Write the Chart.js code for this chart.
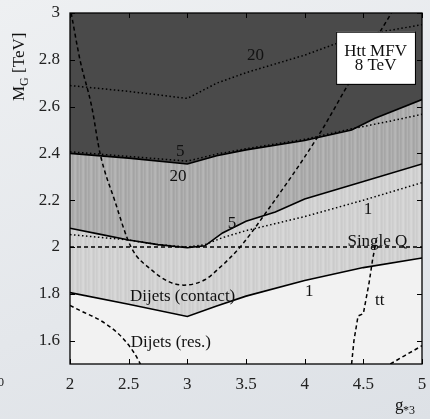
<!DOCTYPE html>
<html>
<head>
<meta charset="utf-8">
<script src="https://cdn.jsdelivr.net/npm/chart.js@4"></script>
<style>
  html, body { margin: 0; padding: 0; }
  body { width: 430px; height: 419px; background: linear-gradient(160deg, #eef0f2 0%, #e4e7eb 60%, #dde1e6 100%); }
  #wrap { width: 430px; height: 419px; }
</style>
</head>
<body>
<div id="wrap"><canvas id="limits" width="430" height="419"></canvas></div>
<script>
// g*3 values and M_G [TeV] values
const xTicks = [2, 2.5, 3, 3.5, 4, 4.5, 5];
const yTicks = [1.6, 1.8, 2, 2.2, 2.4, 2.6, 2.8, 3];

// solid boundaries of the shaded regions
const upperG = [2, 2.5, 3, 3.25, 3.5, 4, 4.4, 4.6, 5];
const upperM = [2.40, 2.38, 2.355, 2.39, 2.415, 2.455, 2.50, 2.55, 2.63];
const middleG = [2, 2.25, 2.5, 2.75, 3, 3.15, 3.3, 3.5, 3.75, 4, 4.5, 5];
const middleM = [2.08, 2.055, 2.03, 2.01, 1.997, 2.005, 2.06, 2.11, 2.15, 2.205, 2.28, 2.355];
const lowerG = [2, 2.5, 3, 3.25, 3.5, 4, 4.5, 5];
const lowerM = [1.805, 1.755, 1.703, 1.748, 1.79, 1.857, 1.912, 1.953];

// dotted contours
const dot20G = [2, 2.5, 3, 3.25, 3.5, 4, 4.3, 4.6, 5];
const dot20M = [2.69, 2.665, 2.635, 2.70, 2.745, 2.82, 2.875, 2.915, 2.95];
const dot5aG = [2, 2.5, 3, 3.25, 3.5, 4, 4.4, 4.7, 5];
const dot5aM = [2.407, 2.387, 2.367, 2.397, 2.42, 2.46, 2.505, 2.535, 2.567];
const dot5bG = [2, 2.5, 2.75, 3, 3.15, 3.3, 3.5, 4, 4.5, 5];
const dot5bM = [2.053, 2.03, 2.01, 2.0, 2.01, 2.04, 2.07, 2.13, 2.2, 2.275];

// dashed curves
const bowlG = [2.01, 2.085, 2.185, 2.256, 2.38, 2.52, 2.7, 2.85, 2.97, 3.15, 3.25, 3.45, 3.66, 4.11, 4.4, 4.74];
const bowlM = [3.0, 2.8, 2.6, 2.4, 2.2, 2.0, 1.9, 1.85, 1.837, 1.86, 1.90, 2.0, 2.14, 2.47, 2.72, 3.0];
const resG = [2.0, 2.1, 2.26, 2.4, 2.48, 2.55, 2.6];
const resM = [1.75, 1.725, 1.686, 1.635, 1.593, 1.545, 1.5];
const ttG = [4.40, 4.42, 4.455, 4.50, 4.55, 4.58, 4.60, 4.61];
const ttM = [1.5, 1.6, 1.705, 1.715, 1.85, 1.95, 2.0, 2.03];
const tt2G = [4.73, 4.85, 5.0];
const tt2M = [1.5, 1.535, 1.578];
const singleQG = [2, 5];
const singleQM = [2, 2];

// text placed in data coordinates
const annotations = [
  { text: '5', g: 2.94, m: 2.41 },
  { text: '20', g: 2.92, m: 2.30 },
  { text: '20', g: 3.58, m: 2.82 },
  { text: '5', g: 3.38, m: 2.10 },
  { text: '1', g: 4.54, m: 2.16 },
  { text: '1', g: 4.04, m: 1.81 },
  { text: 'Single Q', g: 4.62, m: 2.025 },
  { text: 'tt', g: 4.64, m: 1.77 },
  { text: 'Dijets (contact)', g: 2.96, m: 1.79 },
  { text: 'Dijets (res.)', g: 2.86, m: 1.59 }
];

const pts = (gs, ms) => gs.map((g, i) => ({ x: g, y: ms[i] }));

function stripes(shades) {
  const c = document.createElement('canvas');
  c.width = shades.length; c.height = 4;
  const cx = c.getContext('2d');
  shades.forEach((s, i) => { cx.fillStyle = s; cx.fillRect(i, 0, 1, 4); });
  return cx.createPattern(c, 'repeat');
}
const midPattern = stripes(['#a6a6a6', '#aaaaaa', '#b3b3b3', '#b6b6b6', '#adadad', '#a4a4a4', '#a9a9a9', '#b2b2b2']);
const lightPattern = stripes(['#cdcdcd', '#d0d0d0', '#d6d6d6', '#d8d8d8', '#d1d1d1', '#cbcbcb', '#cfcfcf', '#d5d5d5']);

const serif = '"Liberation Serif", "DejaVu Serif", serif';

const solid = (gs, ms, fillColor, order) => ({
  data: pts(gs, ms), borderColor: '#000', borderWidth: 1.6, pointRadius: 0,
  fill: 'end', backgroundColor: fillColor, order: order, tension: 0
});
const dotted = (gs, ms) => ({
  data: pts(gs, ms), borderColor: '#000', borderWidth: 1.5, borderDash: [1.5, 2.5],
  pointRadius: 0, fill: false, order: 0, tension: 0
});
const dashed = (gs, ms, mono) => ({
  data: pts(gs, ms), borderColor: '#000', borderWidth: 1.5, borderDash: [4, 3],
  pointRadius: 0, fill: false, order: 0, cubicInterpolationMode: mono ? 'monotone' : 'default', tension: 0
});

const frame = {
  id: 'frame',
  beforeDraw(chart) {
    const { ctx, chartArea: a } = chart;
    ctx.save();
    ctx.fillStyle = '#f2f2f2';
    ctx.fillRect(a.left, a.top, a.right - a.left, a.bottom - a.top);
    ctx.restore();
  },
  afterDatasetsDraw(chart) {
    const { ctx, chartArea: a, scales: { x, y } } = chart;
    ctx.save();
    ctx.strokeStyle = '#000';
    ctx.lineWidth = 1.3;
    ctx.strokeRect(a.left, a.top, a.right - a.left, a.bottom - a.top);
    ctx.lineWidth = 1;
    ctx.beginPath();
    xTicks.forEach(v => {
      const px = Math.round(x.getPixelForValue(v)) + 0.5;
      ctx.moveTo(px, a.bottom); ctx.lineTo(px, a.bottom - 5);
      ctx.moveTo(px, a.top); ctx.lineTo(px, a.top + 5);
    });
    yTicks.forEach(v => {
      const py = Math.round(y.getPixelForValue(v)) + 0.5;
      ctx.moveTo(a.left, py); ctx.lineTo(a.left + 5, py);
      ctx.moveTo(a.right, py); ctx.lineTo(a.right - 5, py);
    });
    ctx.stroke();

    // curve labels
    ctx.fillStyle = '#111';
    ctx.font = '17px ' + serif;
    ctx.textAlign = 'center';
    ctx.textBaseline = 'middle';
    annotations.forEach(t => ctx.fillText(t.text, x.getPixelForValue(t.g), y.getPixelForValue(t.m)));

    // legend box
    const bx0 = x.getPixelForValue(4.268), bx1 = x.getPixelForValue(4.94);
    const by0 = y.getPixelForValue(2.92), by1 = y.getPixelForValue(2.697);
    ctx.fillStyle = '#fff';
    ctx.fillRect(bx0, by0, bx1 - bx0, by1 - by0);
    ctx.strokeRect(bx0 + 0.5, by0 + 0.5, bx1 - bx0, by1 - by0);
    ctx.fillStyle = '#111';
    ctx.fillText('Htt MFV', (bx0 + bx1) / 2, by0 + 20);
    ctx.fillText('8 TeV', (bx0 + bx1) / 2, by0 + 34);

    // axis titles
    ctx.font = '17px ' + serif;
    ctx.textAlign = 'left';
    ctx.textBaseline = 'alphabetic';
    ctx.fillText('g', 395, 410);
    ctx.font = '12px ' + serif;
    ctx.fillText('*3', 403, 414);

    ctx.save();
    ctx.translate(24, 101);
    ctx.rotate(-Math.PI / 2);
    ctx.font = '17px ' + serif;
    ctx.fillText('M', 0, 0);
    const mw = ctx.measureText('M').width;
    ctx.font = '12px ' + serif;
    ctx.fillText('G', mw, 4);
    const gw = ctx.measureText('G').width;
    ctx.font = '17px ' + serif;
    ctx.fillText(' [TeV]', mw + gw, 0);
    ctx.restore();

    ctx.textAlign = 'right';
    ctx.textBaseline = 'middle';
    ctx.fillText('0', 4, 383);
    ctx.restore();
  }
};

const tickFont = { family: serif, size: 17 };

new Chart(document.getElementById('limits'), {
  type: 'line',
  data: {
    datasets: [
      solid(upperG, upperM, '#4a4a4a', 1),
      solid(middleG, middleM, midPattern, 2),
      solid(lowerG, lowerM, lightPattern, 3),
      dotted(dot20G, dot20M),
      dotted(dot5aG, dot5aM),
      dotted(dot5bG, dot5bM),
      dashed(bowlG, bowlM, true),
      dashed(resG, resM, true),
      dashed(ttG, ttM, false),
      dashed(tt2G, tt2M, false),
      dashed(singleQG, singleQM, false)
    ]
  },
  options: {
    responsive: false,
    animation: false,
    layout: { padding: { left: 0, top: 13, right: 8, bottom: 0 } },
    plugins: {
      legend: { display: false },
      tooltip: { enabled: false },
      filler: { drawTime: 'beforeDatasetsDraw' }
    },
    scales: {
      x: {
        type: 'linear', min: 2, max: 5,
        afterFit: s => { s.height = 55; s.paddingLeft = 0; s.paddingRight = 0; },
        afterBuildTicks: s => { s.ticks = xTicks.map(v => ({ value: v })); },
        grid: { display: true, drawOnChartArea: false, drawTicks: false },
        border: { display: false },
        ticks: { padding: 10, color: '#222', font: tickFont, callback: v => String(v) }
      },
      y: {
        type: 'linear', min: 1.5, max: 3,
        afterFit: s => { s.width = 70; s.paddingTop = 0; s.paddingBottom = 0; },
        afterBuildTicks: s => { s.ticks = yTicks.map(v => ({ value: v })); },
        grid: { display: true, drawOnChartArea: false, drawTicks: false },
        border: { display: false },
        ticks: { padding: 10, color: '#222', font: tickFont, callback: v => String(v) }
      }
    }
  },
  plugins: [frame]
});
</script>
</body>
</html>
